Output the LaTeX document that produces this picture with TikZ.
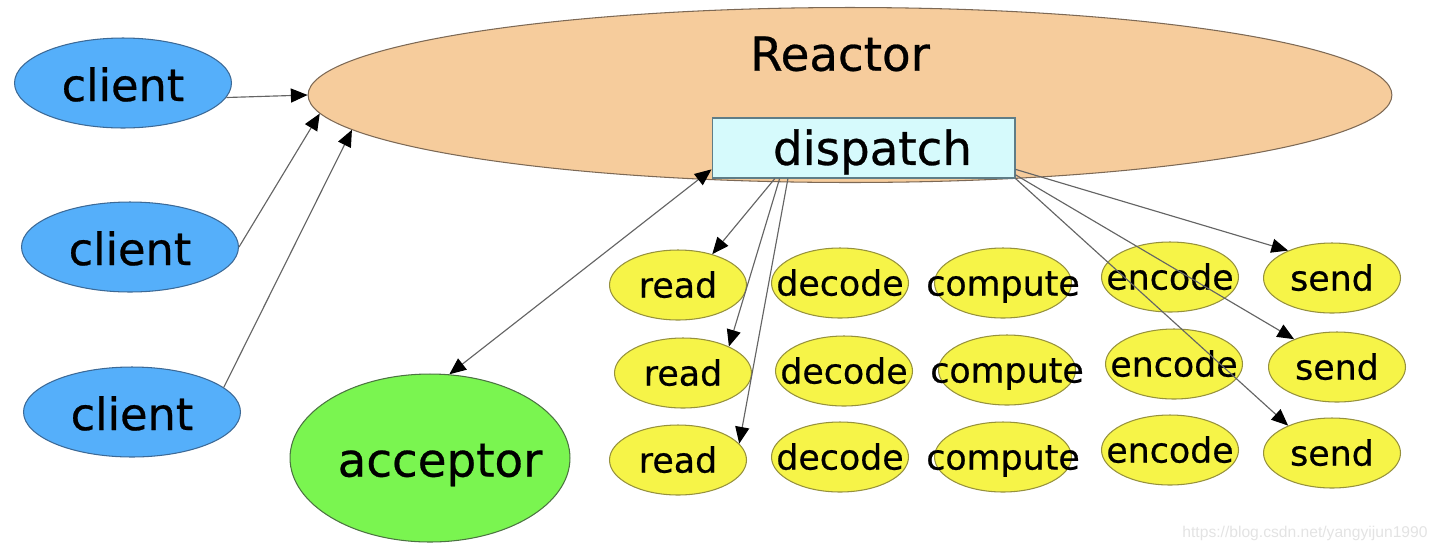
\documentclass[tikz,border=0pt]{standalone}
\usepackage{fontspec}
\setmainfont{DejaVu Sans}[FakeBold=0.6]
\newfontfamily\urlfont{Liberation Sans}
\usetikzlibrary{shapes.geometric, arrows.meta}

\definecolor{clientfill}{RGB}{85,175,250}
\definecolor{clientline}{RGB}{60,105,150}
\definecolor{reactorfill}{RGB}{246,204,156}
\definecolor{reactorline}{RGB}{125,105,85}
\definecolor{dispatchfill}{RGB}{214,250,252}
\definecolor{dispatchline}{RGB}{95,125,135}
\definecolor{acceptorfill}{RGB}{122,245,80}
\definecolor{acceptorline}{RGB}{75,115,65}
\definecolor{jobfill}{RGB}{246,244,72}
\definecolor{jobline}{RGB}{150,145,60}
\definecolor{arrowgray}{RGB}{100,100,100}

\begin{document}
\begin{tikzpicture}[x=0.02cm, y=-0.02cm, line width=0.6pt,
    >={Triangle[length=9.5pt, width=8pt, color=black, fill=black]},
    every label/.style={text=black, inner sep=0pt, text height=0.76em, text depth=0.24em},
    client/.style={ellipse, draw=clientline, fill=clientfill, minimum width=4.34cm, minimum height=1.8cm,
        label={[font=\fontsize{25.4}{30}\selectfont, yshift=-0.27cm]center:client}},
    job/.style={ellipse, draw=jobline, fill=jobfill, minimum width=2.74cm, minimum height=1.4cm,
        label={[font=\fontsize{19.8}{24}\selectfont, yshift=-0.16cm]center:#1}},
    conn/.style={color=arrowgray, line width=0.65pt}]
    \useasboundingbox (0,0) rectangle (1440,552);

    \node[ellipse, draw=reactorline, fill=reactorfill, minimum width=21.68cm, minimum height=3.5cm,
        label={[anchor=center, label distance=-0.94cm, xshift=-0.2cm, text height=, text depth=,
        font=\fontsize{26.6}{32}\selectfont]90:Reactor}] (reactor) at (850,95) {};
    \node[draw=dispatchline, fill=dispatchfill, minimum width=6.06cm, minimum height=1.2cm, inner sep=0pt,
        text height=22.9pt, text depth=3.7pt,
        font=\fontsize{26.6}{32}\selectfont] (dispatch) at (863.5,148) {\hspace*{0.36cm}dispatch};

    \node[client] (client_1) at (123,83) {};
    \node[client] (client_2) at (130,247) {};
    \node[client] (client_3) at (132,412) {};
    \node[ellipse, draw=acceptorline, fill=acceptorfill, minimum width=5.6cm, minimum height=3.36cm,
        label={[font=\fontsize{26.6}{32}\selectfont, xshift=0.2cm, yshift=-0.28cm]center:acceptor}] (acceptor) at (430,458) {};

    \node[job=read] (read_1) at (678,285) {};
    \node[job=decode] (decode_1) at (840,283) {};
    \node[job=compute] (compute_1) at (1003,283) {};
    \node[job=encode] (encode_1) at (1170,277) {};
    \node[job=send] (send_1) at (1332,278) {};

    \node[job=read] (read_2) at (683,373) {};
    \node[job=decode] (decode_2) at (844,371) {};
    \node[job=compute] (compute_2) at (1007,370) {};
    \node[job=encode] (encode_2) at (1174,364) {};
    \node[job=send] (send_2) at (1337,367) {};

    \node[job=read] (read_3) at (678,460) {};
    \node[job=decode] (decode_3) at (840,457) {};
    \node[job=compute] (compute_3) at (1003,457) {};
    \node[job=encode] (encode_3) at (1170,450) {};
    \node[job=send] (send_3) at (1332,453) {};

    \node[font=\urlfont\fontsize{8.9}{10}\selectfont, text=gray!22] (watermark) at (1305,533) {https://blog.csdn.net/yangyijun1990};

        \path[conn, ->]
        (client_1.-8)       edge (reactor.west)
        (client_2.east)     edge (reactor.182.6)
        (client_3.15)       edge (reactor.184.5)
        (acceptor.77)       edge [<->] (dispatch.188)
        (dispatch.199.8)    edge (read_1.42)
        (dispatch.200.9)    edge (read_2.30)
        (dispatch.202.2)    edge (read_3.15)
        (dispatch.-8)       edge (send_1.148)
        (dispatch.-10)      edge (send_2.147)
        (dispatch.south east) edge (send_3.148);
\end{tikzpicture}
\end{document}
